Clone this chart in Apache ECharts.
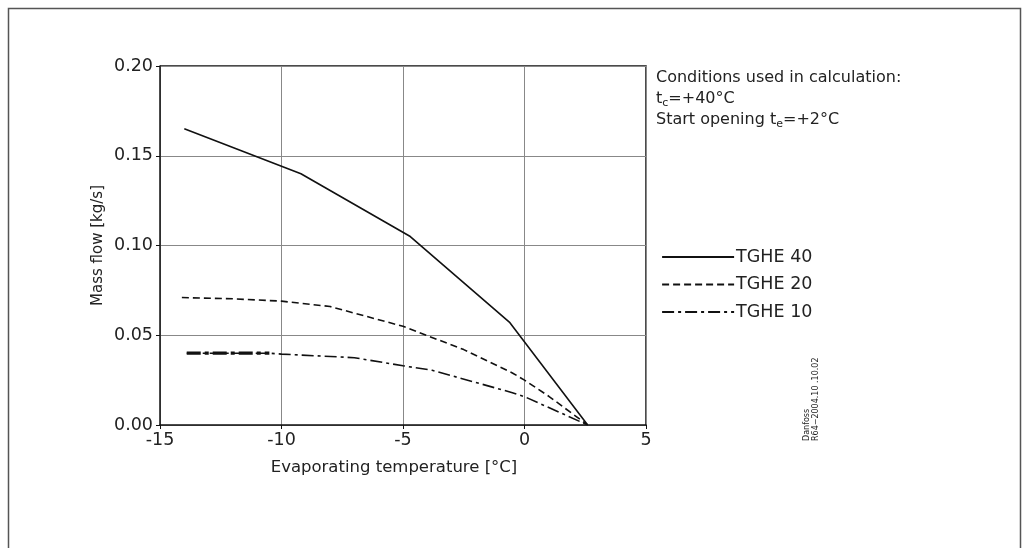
<!DOCTYPE html>
<html>
<head>
<meta charset="utf-8">
<style>
  html, body { margin: 0; padding: 0; background: #fff; }
  #chart { width: 1029px; height: 548px; }
</style>
<script src="https://cdn.jsdelivr.net/npm/echarts@6/dist/echarts.min.js"></script>
</head>
<body>
<div id="chart"></div>
<script>
// Evaporating temperature [°C] vs mass flow [kg/s] for each valve size
const tghe40 = [[-14.0, 0.165], [-9.2, 0.140], [-4.7, 0.105], [-0.6, 0.057], [2.6, 0.0]];
const tghe20 = [[-14.1, 0.071], [-12.0, 0.0703], [-10.0, 0.069], [-8.0, 0.066], [-5.0, 0.055],
                [-2.5, 0.042], [-0.5, 0.029], [0.0, 0.025], [1.0, 0.016], [2.6, 0.0]];
const tghe10 = [[-13.9, 0.040], [-10.5, 0.040], [-10.0, 0.0395], [-7.0, 0.0375], [-5.0, 0.033],
                [-3.8, 0.0305], [-0.5, 0.018], [0.0, 0.0158], [2.6, 0.0]];
// heavier opening stroke of the TGHE 10 curve
const tghe10Head = [[-13.9, 0.040], [-10.5, 0.040]];

const xTicks = [-15, -10, -5, 0, 5];
const yTicks = [0, 0.05, 0.10, 0.15, 0.20];

const FONT = 'DejaVu Sans, Liberation Sans, sans-serif';
const TXT = '#222';

const chart = echarts.init(document.getElementById('chart'), null, { renderer: 'canvas' });

chart.setOption({
  backgroundColor: '#fff',
  animation: false,
  grid: { left: 160, right: 383, top: 66, bottom: 123 },
  xAxis: {
    type: 'value',
    min: xTicks[0], max: xTicks[xTicks.length - 1], interval: 5,
    name: 'Evaporating temperature [°C]',
    nameLocation: 'middle', nameGap: 34,
    nameTextStyle: { fontFamily: FONT, fontSize: 16.5, color: TXT, padding: [0, 18, 0, 0] },
    axisLine: { show: true, onZero: false, lineStyle: { color: '#111', width: 1.5 } },
    axisTick: { show: true, length: 4, lineStyle: { color: '#111' } },
    axisLabel: { fontFamily: FONT, fontSize: 17.5, color: TXT, margin: 6 },
    splitLine: { show: true, lineStyle: { color: '#888', width: 1 } }
  },
  yAxis: {
    type: 'value',
    min: yTicks[0], max: yTicks[yTicks.length - 1], interval: 0.05,
    name: 'Mass flow [kg/s]',
    nameLocation: 'middle', nameGap: 54,
    nameTextStyle: { fontFamily: FONT, fontSize: 15, color: TXT },
    axisLine: { show: true, onZero: false, lineStyle: { color: '#111', width: 1.5 } },
    axisTick: { show: true, length: 4, lineStyle: { color: '#111' } },
    axisLabel: { fontFamily: FONT, fontSize: 17.5, color: TXT, margin: 7,
                 formatter: v => v.toFixed(2) },
    splitLine: { show: true, lineStyle: { color: '#888', width: 1 } }
  },
  legend: {
    orient: 'vertical',
    left: 661, top: 248, padding: 0,
    itemWidth: 72, itemHeight: 14, itemGap: 9.5,
    data: ['TGHE 40', 'TGHE 20', 'TGHE 10'],
    itemStyle: { opacity: 0 },
    lineStyle: { width: 2.2 },
    textStyle: { fontFamily: FONT, fontSize: 17.5, color: TXT, padding: [0, 0, 0, -3] }
  },
  graphic: [
    // outer frame
    { type: 'rect', shape: { x: 8.5, y: 8.5, width: 1012, height: 600 },
      style: { fill: 'none', stroke: '#555', lineWidth: 1.5 }, silent: true },
    // top and right border of the plot box
    { type: 'polyline', shape: { points: [[160, 66], [646, 66], [646, 425]] },
      style: { fill: 'none', stroke: '#111', lineWidth: 1.5 }, silent: true },
    { type: 'text', left: 656, top: 67,
      style: {
        text: 'Conditions used in calculation:\n{n|t}{s|c}{n|=+40°C}\n{n|Start opening t}{s|e}{n|=+2°C}',
        fontFamily: FONT, fontSize: 16, fill: TXT, lineHeight: 21,
        rich: {
          n: { fontFamily: FONT, fontSize: 16, fill: TXT, lineHeight: 21 },
          s: { fontFamily: FONT, fontSize: 11, fill: TXT, lineHeight: 21, verticalAlign: 'bottom', padding: [7, 0, 0, 0] }
        }
      } },
    { type: 'text', x: 802, y: 441, rotation: Math.PI / 2,
      style: { text: 'Danfoss\nR64−2004.10 .10.02', fontFamily: 'DejaVu Sans, sans-serif',
               fontSize: 8, fill: TXT, lineHeight: 9, textAlign: 'left', textVerticalAlign: 'top' } }
  ],
  series: [
    { name: 'TGHE 40', type: 'line', data: tghe40, symbol: 'none',
      lineStyle: { color: '#111', width: 1.6, type: 'solid' }, itemStyle: { color: '#111' } },
    { name: 'TGHE 20', type: 'line', data: tghe20, symbol: 'none',
      lineStyle: { color: '#111', width: 1.6, type: [7, 4] }, itemStyle: { color: '#111' } },
    { name: 'TGHE 10', type: 'line', data: tghe10, symbol: 'none',
      lineStyle: { color: '#111', width: 1.6, type: [12, 4, 3, 4] }, itemStyle: { color: '#111' } },
    { name: 'TGHE 10 head', type: 'line', data: tghe10Head, symbol: 'none',
      lineStyle: { color: '#111', width: 3.2, type: [14, 4, 4, 4] }, itemStyle: { color: '#111' } }
  ]
});
</script>
</body>
</html>
